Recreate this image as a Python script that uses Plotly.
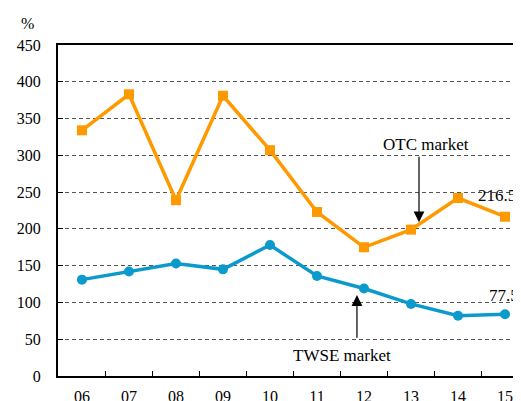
import plotly.graph_objects as go

years = ["06", "07", "08", "09", "10", "11", "12", "13", "14", "15"]
otc = [334, 383, 239, 381, 307, 223, 175, 199, 242, 216.52]
twse = [131, 142, 153, 145, 178, 136, 119, 98, 82, 84]
y_ticks = [0, 50, 100, 150, 200, 250, 300, 350, 400, 450]

ORANGE = "#FF9900"
BLUE = "#0C9ACD"
FONT = "Liberation Serif, Times New Roman, serif"

# page has an 8px body margin; figure is sized to end exactly at the window edge
W, H = 513, 393
L, T, B = 50, 37, 25
PW, PH = W - L, H - T - B

fig = go.Figure()
fig.add_trace(go.Scatter(
    x=years, y=otc, mode="lines+markers", name="OTC market",
    line=dict(color=ORANGE, width=3.5),
    marker=dict(symbol="square", size=10, color=ORANGE),
    cliponaxis=False,
))
fig.add_trace(go.Scatter(
    x=years, y=twse, mode="lines+markers", name="TWSE market",
    line=dict(color=BLUE, width=3.5),
    marker=dict(symbol="circle", size=10, color=BLUE),
    cliponaxis=False,
))

anns = [
    dict(x=7.17, y=209, ax=7.17, ay=300, xref="x", yref="y", axref="x", ayref="y",
         text="", showarrow=True, arrowhead=2, arrowsize=1.8, arrowwidth=1.2, arrowcolor="black"),
    dict(x=7.32, y=315, xref="x", yref="y", text="OTC market", showarrow=False,
         font=dict(family=FONT, size=17, color="black")),
    dict(x=5.85, y=110, ax=5.85, ay=50, xref="x", yref="y", axref="x", ayref="y",
         text="", showarrow=True, arrowhead=2, arrowsize=1.8, arrowwidth=1.2, arrowcolor="black"),
    dict(x=5.54, y=28.5, xref="x", yref="y", text="TWSE market", showarrow=False,
         font=dict(family=FONT, size=17, color="black")),
    dict(x=8.38, y=245, xref="x", yref="y", text="216.52", showarrow=False, xanchor="left",
         font=dict(family=FONT, size=17, color="black")),
    dict(x=8.62, y=110, xref="x", yref="y", text="77.54", showarrow=False, xanchor="left",
         font=dict(family=FONT, size=17, color="black")),
    dict(x=(20 - L) / PW, y=(T + PH - 16) / PH, xref="paper", yref="paper", text="%",
         xanchor="center", yanchor="middle",
         showarrow=False, font=dict(family=FONT, size=16, color="black")),
]

fig.update_layout(
    width=W, height=H,
    margin=dict(l=L, r=0, t=T, b=B, pad=0, autoexpand=False),
    plot_bgcolor="white", paper_bgcolor="white",
    showlegend=False,
    font=dict(family=FONT, size=16, color="black"),
    annotations=anns,
)
fig.update_xaxes(
    type="category", range=[-0.51, 9.34], automargin=False,
    showline=True, linecolor="black", linewidth=2, mirror=True,
    ticks="inside", ticklen=5, tickwidth=1, tickcolor="black", tickson="boundaries",
    showgrid=False, ticklabelstandoff=5,
    tickfont=dict(family=FONT, size=16, color="black"),
)
fig.update_yaxes(
    range=[0, 450], tickvals=y_ticks, automargin=False,
    showline=True, linecolor="black", linewidth=2,
    ticks="inside", ticklen=5, tickwidth=1, tickcolor="black",
    showgrid=True, gridcolor="#555555", gridwidth=1, griddash="4px,3px",
    zeroline=False, ticklabelstandoff=12,
    tickfont=dict(family=FONT, size=16, color="black"),
)

fig.write_html("out.html", config={"displayModeBar": False})
